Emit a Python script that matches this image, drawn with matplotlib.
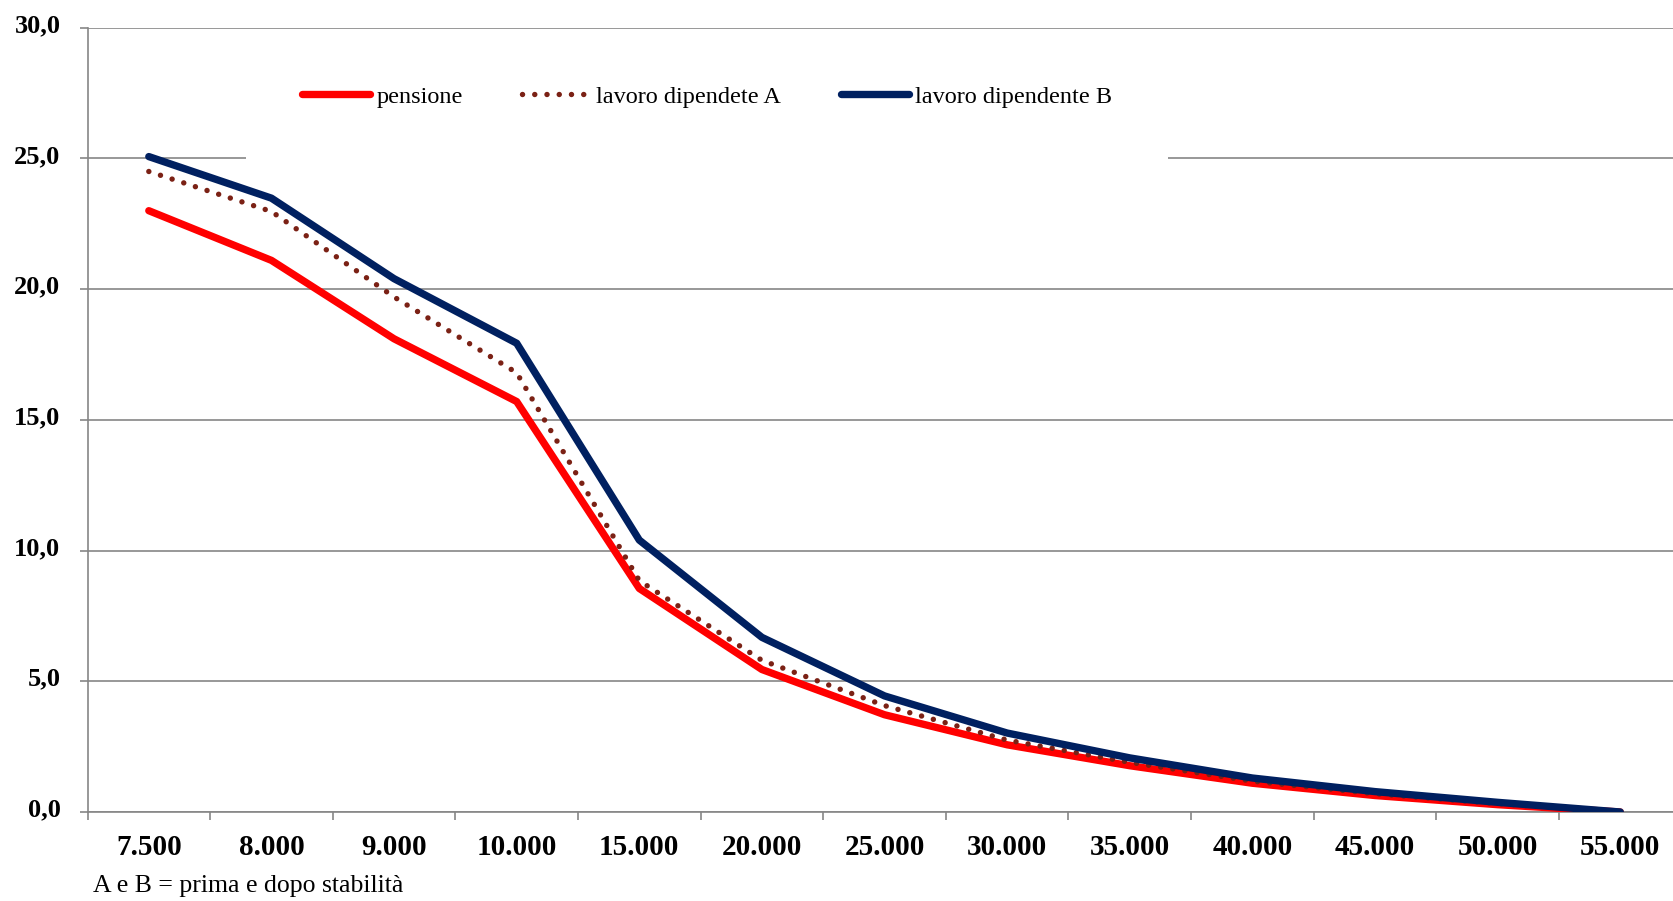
import matplotlib
matplotlib.use("Agg")
import matplotlib.pyplot as plt
from matplotlib.transforms import ScaledTranslation

categories = ["7.500", "8.000", "9.000", "10.000", "15.000", "20.000", "25.000",
              "30.000", "35.000", "40.000", "45.000", "50.000", "55.000"]
pensione = [23.0, 21.1, 18.1, 15.7, 8.55, 5.45, 3.72, 2.57, 1.77, 1.1, 0.63, 0.28, 0.0]
lavoro_a = [24.5, 22.97, 19.7, 16.8, 8.85, 5.8, 4.07, 2.75, 1.9, 1.18, 0.7, 0.32, 0.0]
lavoro_b = [25.07, 23.48, 20.4, 17.93, 10.4, 6.68, 4.44, 3.02, 2.07, 1.3, 0.78, 0.37, 0.0]
yticks = [0, 5, 10, 15, 20, 25, 30]
ytick_labels = ["0,0", "5,0", "10,0", "15,0", "20,0", "25,0", "30,0"]
labels = ["pensione", "lavoro dipendete A", "lavoro dipendente B"]
footnote = "A e B = prima e dopo stabilità"

plt.rcParams['font.family'] = ['Liberation Serif', 'DejaVu Serif']

W, H = 1673, 901
fig = plt.figure(figsize=(W / 100, H / 100), dpi=100)
ax = fig.add_axes([87.5 / W, 1 - 812 / H, (1681.6 - 87.5) / W, (812 - 27.7) / H])

grid_c = "#868686"
x = list(range(len(categories)))

ax.plot(x, pensione, color="#FF0000", lw=5.3, solid_capstyle="round",
        solid_joinstyle="round", label=labels[0], zorder=3)
ax.plot(x, lavoro_a, color="#7B2115", lw=3.9, linestyle=(0, (0.01, 2.25)),
        dash_capstyle="round", label=labels[1], zorder=4)
ax.plot(x, lavoro_b, color="#002060", lw=5.3, solid_capstyle="round",
        solid_joinstyle="round", label=labels[2], zorder=5)

ax.set_xlim(-0.5, len(categories) - 0.5)
ax.set_ylim(0, 30)

ax.set_yticks(yticks)
ax.set_yticklabels(ytick_labels, fontsize=19, fontweight="bold")
ax.yaxis.grid(True, color=grid_c, lw=1.2, zorder=0)
ax.set_axisbelow(True)
ax.tick_params(axis="y", length=6, width=1.2, color=grid_c, pad=13.5)
for lbl in ax.get_yticklabels():
    lbl.set_transform(lbl.get_transform() + ScaledTranslation(0, 4.5 / 100, fig.dpi_scale_trans))

ax.set_xticks([i - 0.5 for i in range(len(categories) + 1)])
ax.set_xticklabels([])
ax.set_xticks(x, minor=True)
ax.set_xticklabels(categories, minor=True, fontsize=21, fontweight="bold")
ax.tick_params(axis="x", which="major", length=6, width=1.2, color=grid_c)
ax.tick_params(axis="x", which="minor", length=0, pad=16)

for s in ["top", "right"]:
    ax.spines[s].set_visible(False)
for s in ["left", "bottom"]:
    ax.spines[s].set_color(grid_c)
    ax.spines[s].set_linewidth(1.2)

leg = ax.legend(ncol=3, loc="center", bbox_to_anchor=(707 / W, 1 - 97 / H),
                bbox_transform=fig.transFigure, fontsize=17.5, frameon=True,
                facecolor="white", edgecolor="none", framealpha=1,
                handlelength=2.8, handletextpad=0.25, columnspacing=2.45,
                borderpad=2.3, fancybox=False)
leg.set_zorder(2)

fig.text(93 / W, 1 - 886 / H, footnote, fontsize=18.5, va="center", ha="left")

fig.savefig("out.png", dpi=100)
